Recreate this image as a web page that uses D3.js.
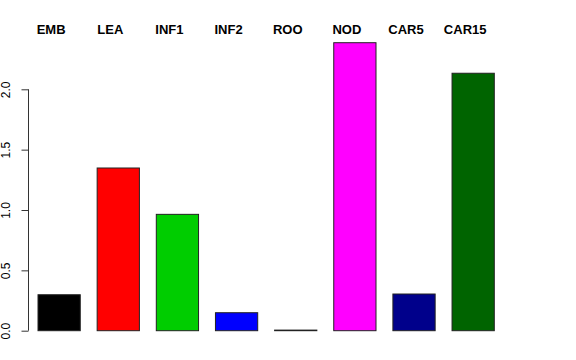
<!DOCTYPE html>
<html>
<head>
<meta charset="utf-8">
<script src="https://cdn.jsdelivr.net/npm/d3@7"></script>
<style>
  html, body { margin: 0; padding: 0; background: #fff; }
  svg { display: block; }
</style>
</head>
<body>
<script>
const categories = ["EMB", "LEA", "INF1", "INF2", "ROO", "NOD", "CAR5", "CAR15"];
const values = [0.298, 1.348, 0.964, 0.149, 0.005, 2.386, 0.304, 2.133];
const colors = ["#000000", "#FF0000", "#00CD00", "#0000FF", "#00FFFF", "#FF00FF", "#00008B", "#006400"];
const yTicks = [0, 0.5, 1.0, 1.5, 2.0];
const yTickLabels = ["0.0", "0.5", "1.0", "1.5", "2.0"];

const W = 576, H = 360;
const svg = d3.select("body").append("svg").attr("width", W).attr("height", H);

const x = d3.scaleBand().domain(categories).range([38, 494.3]).paddingInner(0.4 / 1.4).paddingOuter(0);
const y = d3.scaleLinear().domain([0, 2]).range([330.7, 89.3]);

// bars
svg.append("g").selectAll("rect").data(categories).join("rect")
  .attr("x", d => x(d))
  .attr("y", (d, i) => y(values[i]))
  .attr("width", x.bandwidth())
  .attr("height", (d, i) => y(0) - y(values[i]))
  .attr("fill", (d, i) => colors[i])
  .attr("stroke", "#222")
  .attr("stroke-width", 1);

// y axis
const axis = d3.axisLeft(y).tickValues(yTicks).tickSize(7).tickFormat((d, i) => yTickLabels[i]);
const ga = svg.append("g").attr("transform", "translate(28.5,0)").call(axis);
ga.select(".domain").attr("stroke", "#333").attr("d", `M-7,${y(0)}H0V${y(2)}H-7`).attr("d", `M0,${y(0)}V${y(2)}`);
ga.selectAll(".tick line").attr("stroke", "#333");
ga.selectAll(".tick text")
  .attr("font-family", "Liberation Sans, Arial, Helvetica, sans-serif")
  .attr("font-size", 12)
  .attr("fill", "#000")
  .attr("text-anchor", "middle")
  .attr("x", null).attr("dy", null)
  .attr("transform", "translate(-18.5,0) rotate(-90)")
  .attr("y", 0);

// category labels
svg.append("g").selectAll("text").data(categories).join("text")
  .attr("x", d => x(d) + x.bandwidth() / 2 - 8)
  .attr("y", 34)
  .attr("text-anchor", "middle")
  .attr("font-family", "Liberation Sans, Arial, Helvetica, sans-serif")
  .attr("font-weight", "bold")
  .attr("font-size", 13)
  .attr("fill", "#000")
  .text(d => d);
</script>
</body>
</html>
